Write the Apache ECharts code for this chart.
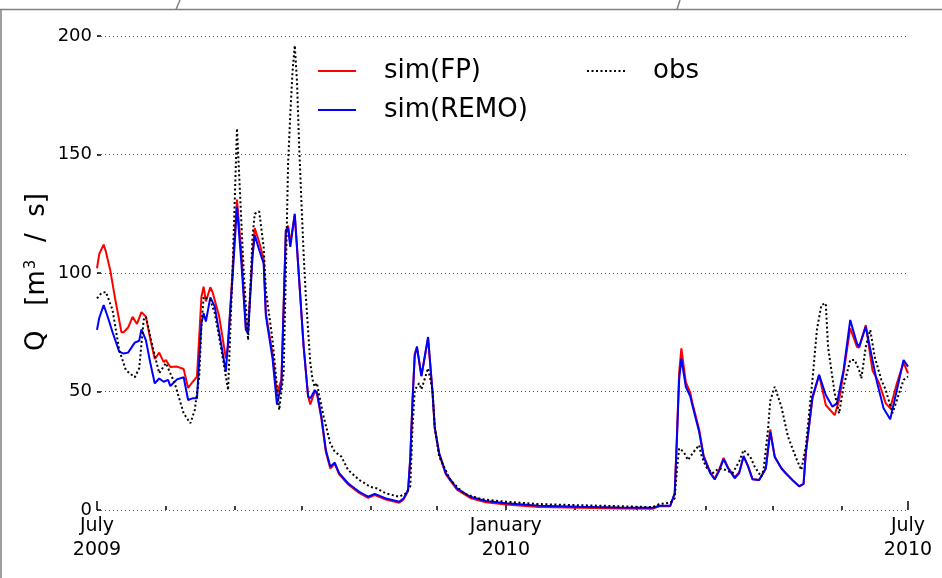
<!DOCTYPE html>
<html>
<head>
<meta charset="utf-8">
<script src="https://cdn.jsdelivr.net/npm/echarts@6/dist/echarts.min.js"></script>
<style>
  html, body { margin: 0; padding: 0; background: #fff; }
  #chart { width: 942px; height: 578px; }
</style>
</head>
<body>
<div id="chart"></div>
<script>
// Discharge Q [m^3/s], July 2009 – July 2010. Days are counted from 1 July 2009.
const fpDays = [0,1,3,4,6,8,10,11,12,14,16,18,20,22,24,26,28,30,31,33,36,39,41,43,45,47,48,49,51,52,55,58,59,61,63,65,67,68,70,71,73,75,76,79,81,83,85,86,87,89,91,93,95,96,98,99,101,103,105,107,109,113,118,122,125,130,136,138,140,141,142,143,144,146,149,151,152,154,157,162,168,175,184,199,217,235,250,253,258,260,261,262,263,265,267,268,271,273,276,278,280,282,284,287,289,291,293,295,298,301,303,305,308,310,313,316,318,319,322,325,328,332,334,336,339,342,343,346,349,352,355,357,360,363,365];
const fpValues = [102,108,112,109,101,90,80,75,75,77,81.5,78.5,83.5,81.6,72,63.7,66.4,62.4,63.3,60.3,60.5,59.5,51.5,54,56.3,90,94.2,88,94,92,81.6,64,69,101,131,108,77,76,108,119,113,106,83,66,49,55,118,120,112.5,124.5,97,69,48,44.5,50,49,38.5,24.5,17.5,19.5,15,10.8,7.2,5.1,6.3,4.4,3.1,4.5,8,22,46,66,68.5,56.5,72.5,49.5,34.5,23.5,15,8.6,5.1,3.3,2.3,1.3,0.9,0.6,0.5,1.6,1.6,7,31,58,68.2,54,49.5,45,34,23,16,13.2,17,22,18,13.8,15.8,22.5,18.5,13,12.7,17.5,34,22.5,17.6,15.5,12.5,10,11,24,47,57,44.3,40,46.4,58,76.7,68.9,68.5,78,59,53.5,45,42.9,53.5,62.2,57.7];

const remoDays = [0,1,3,5,7,10,12,14,17,19,20,22,24,26,28,30,32,33,36,39,41,43,45,47,48,49,51,53,58,61,63,65,67,68,70,71,73,75,76,79,81,83,85,86,87,89,91,93,95,96,98,99,101,103,105,107,109,113,118,122,125,130,136,138,140,141,142,143,144,146,149,151,152,154,157,162,168,175,184,199,217,235,250,253,258,260,261,262,263,265,267,268,271,273,276,278,280,282,284,287,289,291,293,295,298,301,303,305,308,310,313,316,318,319,322,325,328,331,333,336,339,342,343,346,349,351,354,357,360,363,365];
const remoValues = [76,81,86.5,81,75,66.8,66,66.4,70.6,71.4,76.2,71.7,62,53.4,55.5,54.1,54.9,52.3,55.1,56,46.4,47.1,47.1,78.8,83,79.5,89.7,85.8,58.4,98,128,104,76,74.6,107,116,109.7,104,82,64,44.5,53,118,119,111,125,97,69,48,47,50.6,49.5,39.4,25.3,18.3,20,15.5,11.3,7.7,5.6,6.8,4.9,3.5,4.9,8.4,22,46,65,69,56.5,73,50,35,24,15.5,9.1,5.6,3.8,2.8,1.8,1.4,1.1,0.9,1.8,1.8,7,30,55,64,52,48,44,33,22.5,15.5,12.9,16.5,21.5,17.6,13.4,15.5,22.8,18.5,13,12.7,17.5,33,22.5,17.6,15.5,12.7,10,11,24,47.8,57,48.5,43.6,45,59,80.2,70.3,68.9,77.3,63.3,54.1,42.9,38.3,50.6,63.3,60.5];

const obsDays = [0,2,4,7,10,13,17,19,21,22,25,28,31,35,39,42,44,46,47,48,51,53,56,59,61,63,66,68,70,71,73,75,76,79,81,82,84,85,86,87,88,89,90,91,92,93,94,95,96,97,98,99,100,102,105,107,110,113,118,123,126,130,136,139,141,142,143,145,146,149,151,152,154,159,165,173,184,199,214,235,250,253,258,260,261,262,264,266,268,271,272,274,277,280,283,286,289,291,294,296,299,300,302,303,305,308,311,315,317,319,322,324,326,328,329,332,334,336,339,341,343,344,346,348,350,353,355,358,360,363,365];
const obsValues = [89.3,91.5,92,84.4,67.5,59,56,59.8,80.2,81.6,69,57.7,62,53.4,40.8,36.6,42.2,56.3,77.3,90,88.6,83,67.5,50.6,101,161,101,71.7,115.3,125,126,111,92.8,71.7,52,42.2,58,100,146,167,185,196,181,153,130,108,90,76,62,55,52,53.6,48.5,39.4,28.1,24.6,22.5,16.9,12.7,9.8,9.1,7,5.6,7,10,35,50.6,53.5,50.9,59.8,50.6,35,22.5,12.7,7,4.6,3.5,2.5,2.1,1.6,1.2,2.5,3.1,4.9,16.9,26,24.6,21.1,23.9,27.4,23.2,18.3,15.5,17.6,16.9,15.5,20.4,25.3,22.5,18.3,14,17,34,46,52,43.6,30.9,21.1,16.9,26.7,54.9,76,86.5,87.2,68.9,49.2,40.8,52,63.3,63.3,59,55.5,68.9,76,64.7,54.9,50.6,40.8,46.4,54.9,56.3];

// Axis scaffolding: month starts (minor ticks), labelled half-year ticks, y range.
const monthStarts = [0,31,62,92,123,153,184,215,243,274,304,335,365];
const majorTicks = [0,184,365];
const majorLabels = ['July\n2009','January\n2010','July\n2010'];
const yMin = 0, yMax = 200, yStep = 50;
const seriesNames = ['sim(FP)','sim(REMO)','obs'];

const FONT = 'DejaVu Sans';
const pairs = (days, vals) => days.map((d, i) => [d, vals[i]]);
const dayCats = Array.from({ length: 366 }, (_, i) => String(i));

const chart = echarts.init(document.getElementById('chart'), null, { renderer: 'canvas' });

const tickAxisBase = {
  type: 'category',
  data: dayCats,
  boundaryGap: false,
  position: 'bottom',
  gridIndex: 0,
  axisLine: { show: false },
  splitLine: { show: false },
  axisPointer: { show: false }
};

const legendBase = {
  orient: 'vertical', top: 58, padding: 0,
  itemWidth: 38, itemHeight: 14, itemGap: 13,
  itemStyle: { opacity: 0 },
  textStyle: { fontFamily: FONT, fontSize: 26, lineHeight: 26, color: '#000', padding: [0, 0, 0, 23] },
  selectedMode: false
};

chart.setOption({
  animation: false,
  backgroundColor: '#ffffff',
  grid: { left: 97, right: 34, top: 36, bottom: 68, containLabel: false },
  xAxis: [
    {
      type: 'value', min: 0, max: 365, position: 'bottom',
      axisLine: { show: false }, axisTick: { show: false },
      axisLabel: { show: false }, splitLine: { show: false }
    },
    Object.assign({}, tickAxisBase, {
      axisTick: {
        show: true, inside: true, length: 4,
        interval: (i) => monthStarts.includes(i),
        lineStyle: { color: '#000', width: 1.5 }
      },
      axisLabel: { show: false }
    }),
    Object.assign({}, tickAxisBase, {
      axisTick: {
        show: true, inside: true, length: 9,
        interval: (i) => majorTicks.includes(i),
        lineStyle: { color: '#000', width: 1.5 }
      },
      axisLabel: {
        show: true,
        interval: (i) => majorTicks.includes(i),
        formatter: (v) => {
          const k = majorTicks.indexOf(Number(v));
          return k >= 0 ? majorLabels[k] : '';
        },
        fontFamily: FONT, fontSize: 19, lineHeight: 24, color: '#000',
        margin: 4, hideOverlap: false, showMinLabel: true, showMaxLabel: true
      }
    })
  ],
  yAxis: {
    type: 'value', min: yMin, max: yMax, interval: yStep,
    axisLine: { show: false },
    axisTick: { show: true, inside: true, length: 4, lineStyle: { color: '#000', width: 1.5 } },
    axisLabel: { fontFamily: FONT, fontSize: 18, color: '#000', margin: 5 },
    splitLine: { show: true, lineStyle: { color: '#555', width: 1, type: [1, 3] } }
  },
  legend: [
    Object.assign({}, legendBase, { data: [seriesNames[0], seriesNames[1]], left: 317 }),
    Object.assign({}, legendBase, { data: [seriesNames[2]], left: 586 })
  ],
  series: [
    {
      name: seriesNames[0], type: 'line', xAxisIndex: 0,
      data: pairs(fpDays, fpValues), showSymbol: false, symbol: 'none',
      lineStyle: { color: '#ff0000', width: 2 }, itemStyle: { color: '#ff0000' }
    },
    {
      name: seriesNames[1], type: 'line', xAxisIndex: 0,
      data: pairs(remoDays, remoValues), showSymbol: false, symbol: 'none',
      lineStyle: { color: '#0000ff', width: 2 }, itemStyle: { color: '#0000ff' }
    },
    {
      name: seriesNames[2], type: 'line', xAxisIndex: 0,
      data: pairs(obsDays, obsValues), showSymbol: false, symbol: 'none',
      lineStyle: { color: '#000000', width: 2, type: [2, 2.5] }, itemStyle: { color: '#000000' }
    }
  ],
  graphic: [
    { type: 'line', silent: true, shape: { x1: 0, y1: 9.5, x2: 942, y2: 9.5 }, style: { stroke: '#808080', lineWidth: 1.5 } },
    { type: 'line', silent: true, shape: { x1: 1, y1: 9.5, x2: 1, y2: 578 }, style: { stroke: '#808080', lineWidth: 1.5 } },
    { type: 'line', silent: true, shape: { x1: 176, y1: 9.5, x2: 180, y2: 0 }, style: { stroke: '#808080', lineWidth: 1.5 } },
    { type: 'line', silent: true, shape: { x1: 677, y1: 9.5, x2: 680, y2: 0 }, style: { stroke: '#808080', lineWidth: 1.5 } },
    {
      type: 'text', silent: true, x: 37, y: 272, rotation: Math.PI / 2,
      style: {
        text: '{a|Q   [m}{b|3}{a|  /  s]}',
        align: 'center', verticalAlign: 'middle',
        rich: {
          a: { fontFamily: FONT, fontSize: 26, fill: '#000', color: '#000' },
          b: { fontFamily: FONT, fontSize: 15, fill: '#000', color: '#000', verticalAlign: 'top', padding: [0, 1, 10, 1] }
        }
      }
    }
  ]
});
</script>
</body>
</html>
